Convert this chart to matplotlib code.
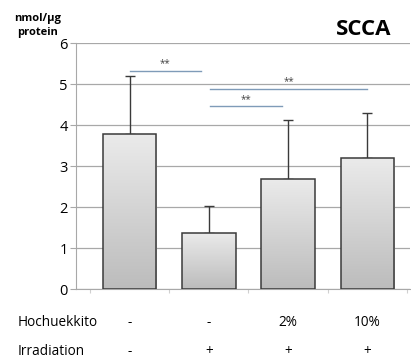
import numpy as np
import matplotlib
matplotlib.use("Agg")
import matplotlib.pyplot as plt
from matplotlib.colors import LinearSegmentedColormap

plt.rcParams['font.family'] = ['Open Sans', 'DejaVu Sans']

groups = ["Control", "Irradiation", "Hochuekkito 2%", "Hochuekkito 10%"]
values = [3.79, 1.38, 2.69, 3.20]
errors = [1.42, 0.66, 1.45, 1.11]
hochuekkito = ["-", "-", "2%", "10%"]
irradiation = ["-", "+", "+", "+"]
yticks = [0, 1, 2, 3, 4, 5, 6]
# significance brackets: (start, end in group units, y level, label)
sig_pairs = [(0.0, 0.9, 5.32, "**"), (1.02, 3.0, 4.89, "**"), (1.02, 1.92, 4.46, "**")]

fig = plt.figure(figsize=(4.11, 3.64), dpi=100)
ax = fig.add_axes([0.185, 0.2052, 0.813, 0.676])

x = np.arange(len(values))
width = 0.675
ax.set_ylim(0, 6)

cmap = LinearSegmentedColormap.from_list("g", ["#bcbcbc", "#ebebeb"])
grad = np.linspace(0, 1, 256).reshape(-1, 1)
bars = ax.bar(x, values, width=width, facecolor="none", edgecolor="#3a3a3a",
              linewidth=1.1, zorder=3)
for b in bars:
    x0, y0 = b.get_x(), b.get_y()
    w, h = b.get_width(), b.get_height()
    im = ax.imshow(grad, cmap=cmap, extent=[x0, x0 + w, y0, y0 + h],
                   origin="lower", aspect="auto", zorder=2)
    im.set_clip_path(b)

ax.errorbar(x, values, yerr=[np.zeros(len(errors)), errors], fmt="none",
            ecolor="#3a3a3a", elinewidth=1.0, capsize=3.5, capthick=1.0, zorder=1)

ax.set_yticks(yticks)
ax.yaxis.grid(True, color="#a8a8a8", linewidth=0.9, zorder=0)
ax.set_axisbelow(True)
for s in ["top", "right"]:
    ax.spines[s].set_visible(False)
ax.spines["left"].set_color("#a8a8a8")
ax.spines["bottom"].set_color("#a8a8a8")
ax.tick_params(axis="y", length=4, color="#a8a8a8", labelsize=10.5, pad=2)
ax.set_xticks([-0.5, 0.5, 1.5, 2.5, 3.5])
ax.set_xticklabels([])
ax.tick_params(axis="x", length=3, color="#d0d0d0", direction="out")
ax.set_xlim(-0.675, 3.54)

for (xa, xb, y, lab) in sig_pairs:
    ax.plot([xa, xb], [y, y], color="#7f9bb8", linewidth=1.0, zorder=4)
    ax.text((xa + xb) / 2, y + 0.04, lab, ha="center", va="bottom",
            fontsize=7, color="#444444")

fig.text(0.092, 0.93, "nmol/µg\nprotein", ha="center", va="center",
         fontsize=8, fontweight="bold", linespacing=1.35)
fig.text(0.885, 0.918, "SCCA", ha="center", va="center", fontsize=16,
         fontweight="bold")

fig.text(0.044, 0.115, "Hochuekkito", ha="left", va="center", fontsize=9.8)
fig.text(0.044, 0.035, "Irradiation", ha="left", va="center", fontsize=9.8)
for i in range(len(values)):
    xf = ax.transData.transform((x[i], 0))[0] / fig.bbox.width
    fig.text(xf, 0.115, hochuekkito[i], ha="center", va="center", fontsize=9.8)
    fig.text(xf, 0.035, irradiation[i], ha="center", va="center", fontsize=9.8)

fig.savefig("out.png", dpi=100)
